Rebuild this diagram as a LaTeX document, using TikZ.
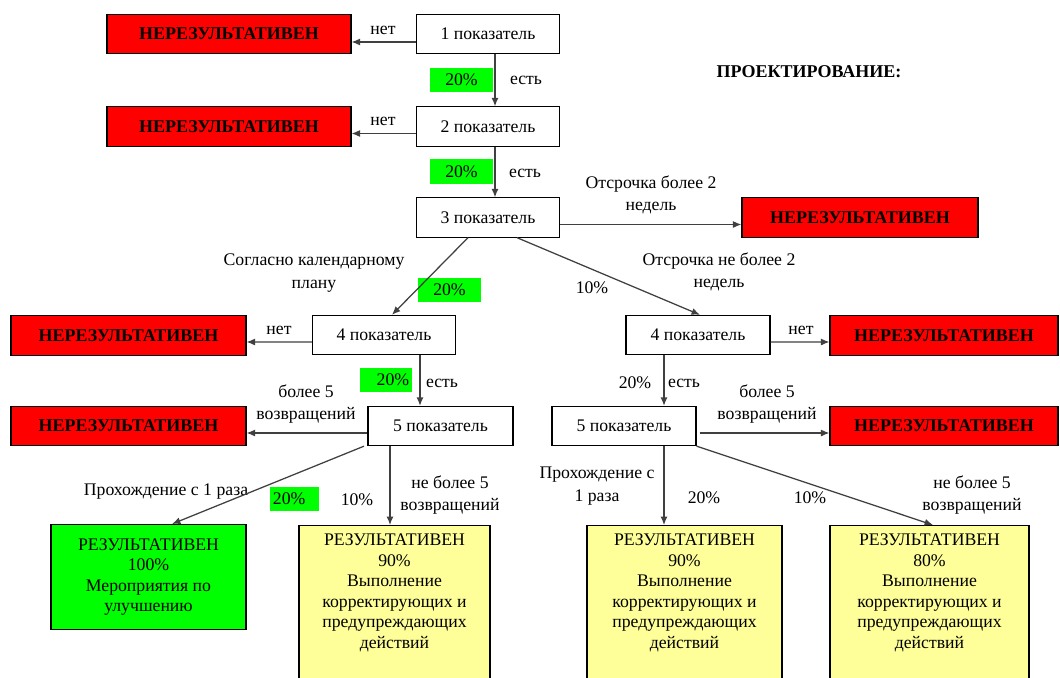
\documentclass[tikz,border=0pt]{standalone}
\usepackage{fontspec}
\setmainfont{Liberation Serif}
\usepackage{xcolor}
\usepackage{tikz}
\usetikzlibrary{arrows.meta}

\definecolor{failred}{HTML}{FF0000}
\definecolor{passgreen}{HTML}{00FF00}
\definecolor{resyellow}{HTML}{FFFF99}

\begin{document}
\begin{tikzpicture}[x=0.025cm, y=-0.025cm,
    ind/.style={draw, line width=0.8pt, fill=white, minimum width=3.575cm, minimum height=0.98cm, inner sep=0pt, font=\fontsize{12.6}{14.6}\selectfont},
    fail/.style={draw, line width=0.8pt, fill=failred, minimum height=0.98cm, inner sep=0pt, font=\bfseries\fontsize{12.8}{14.6}\selectfont},
    res/.style={draw, line width=0.8pt, anchor=north, align=center, inner xsep=2pt, inner ysep=6pt, font=\fontsize{12.6}{14.6}\selectfont},
    pct/.style={fill=passgreen, inner xsep=2pt, inner ysep=0pt, minimum height=0.6cm, font=\fontsize{12.6}{14.6}\selectfont},
    lbl/.style={inner sep=1pt, align=center, font=\fontsize{12.6}{16}\selectfont},
    arr/.style={-{Latex[length=6pt,width=5pt]}, line width=0.9pt, draw=black!75}]

    \useasboundingbox (0,0) rectangle (1060,678);

    % Title
    \node[font=\bfseries\fontsize{12.8}{14.6}\selectfont] (title) at (809,72) {ПРОЕКТИРОВАНИЕ:};

    % Indicators
    \node[ind] (ind1) at (488,34) {1 показатель};
    \node[ind] (ind2) at (488,126.5) {2 показатель};
    \node[ind] (ind3) at (488,217.5) {3 показатель};
    \node[ind] (ind4a) at (384,335) {4 показатель};
    \node[ind, minimum width=3.6cm] (ind4b) at (698,335) {4 показатель};
    \node[ind, minimum width=3.625cm] (ind5a) at (440.5,426) {5 показатель};
    \node[ind, minimum width=3.6cm] (ind5b) at (624,426) {5 показатель};

    % Negative outcomes
    \node[fail, minimum width=6.1cm] (fail1) at (229,34) {НЕРЕЗУЛЬТАТИВЕН};
    \node[fail, minimum width=6.1cm] (fail2) at (229,126.5) {НЕРЕЗУЛЬТАТИВЕН};
    \node[fail, minimum width=5.9cm] (fail3) at (860,217.5) {НЕРЕЗУЛЬТАТИВЕН};
    \node[fail, minimum width=5.875cm] (fail4a) at (128.5,335.5) {НЕРЕЗУЛЬТАТИВЕН};
    \node[fail, minimum width=5.7cm] (fail4b) at (944,335.5) {НЕРЕЗУЛЬТАТИВЕН};
    \node[fail, minimum width=5.875cm] (fail5a) at (128.5,426) {НЕРЕЗУЛЬТАТИВЕН};
    \node[fail, minimum width=5.7cm] (fail5b) at (944,426) {НЕРЕЗУЛЬТАТИВЕН};

    % Results
    \node[res, fill=passgreen, minimum width=4.875cm, minimum height=2.625cm] (res1) at (148.5,524) {РЕЗУЛЬТАТИВЕН\\100\%\\Мероприятия по\\улучшению};
    \node[res, fill=resyellow, minimum width=4.775cm, text depth=4cm] (res2) at (394.5,525) {РЕЗУЛЬТАТИВЕН\\90\%\\Выполнение\\корректирующих и\\предупреждающих\\действий};
    \node[res, fill=resyellow, minimum width=4.875cm, text depth=4cm] (res3) at (684.5,525) {РЕЗУЛЬТАТИВЕН\\90\%\\Выполнение\\корректирующих и\\предупреждающих\\действий};
    \node[res, fill=resyellow, minimum width=4.975cm, text depth=4cm] (res4) at (929.5,525) {РЕЗУЛЬТАТИВЕН\\80\%\\Выполнение\\корректирующих и\\предупреждающих\\действий};

    % Shares
    \node[pct, text width=1.43cm, align=center] (pct1) at (461.5,80) {20\%};
    \node[pct, text width=1.43cm, align=center] (pct2) at (461.5,171.5) {20\%};
    \node[pct, text width=1.43cm, align=center] (pct3) at (449.5,289.5) {20\%};
    \node[pct, text width=1.16cm, align=right] (pct4) at (386,380) {20\%};
    \node[pct, text width=1.08cm, align=left] (pct5) at (294.5,498.5) {20\%};
    \node[lbl] (pct6) at (592,288) {10\%};
    \node[lbl] (pct7) at (635,383) {20\%};
    \node[lbl] (pct8) at (357,500) {10\%};
    \node[lbl] (pct9) at (704,498) {20\%};
    \node[lbl] (pct10) at (810,498) {10\%};

    % Edge labels
    \node[lbl] (no1) at (383,30) {нет};
    \node[lbl] (yes1) at (526,80) {есть};
    \node[lbl] (no2) at (383,121) {нет};
    \node[lbl] (yes2) at (525,173) {есть};
    \node[lbl] (late) at (651,195) {Отсрочка более 2\\недель};
    \node[lbl] (plan) at (314,273) {Согласно календарному\\плану};
    \node[lbl] (delay) at (719,272) {Отсрочка не более 2\\недель};
    \node[lbl] (no4a) at (279,330) {нет};
    \node[lbl] (no4b) at (801,330) {нет};
    \node[lbl] (yes4a) at (442,383) {есть};
    \node[lbl] (yes4b) at (684,383) {есть};
    \node[lbl] (many5a) at (306,404) {более 5\\возвращений};
    \node[lbl] (many5b) at (767,404) {более 5\\возвращений};
    \node[lbl] (first5a) at (166,492) {Прохождение с 1 раза};
    \node[lbl] (few5a) at (450,495) {не более 5\\возвращений};
    \node[lbl] (first5b) at (597,486) {Прохождение с\\1 раза};
    \node[lbl] (few5b) at (972,495) {не более 5\\возвращений};

    % Edges
    \draw[arr] ([shift={(0,8)}]ind1.west) -- ([shift={(0,8)}]fail1.east);
    \draw[arr] ([shift={(7,0)}]ind1.south) -- ([shift={(7,0)}]ind2.north);
    \draw[arr] ([shift={(0,7)}]ind2.west) -- ([shift={(0,7)}]fail2.east);
    \draw[arr] ([shift={(7,0)}]ind2.south) -- ([shift={(7,0)}]ind3.north);
    \draw[arr] ([shift={(0,7)}]ind3.east) -- ([shift={(0,7)}]fail3.west);
    \draw[arr] ([shift={(-20,0)}]ind3.south) -- ([shift={(8,0)}]ind4a.north);
    \draw[arr] ([shift={(29,0)}]ind3.south) -- ([shift={(2,0)}]ind4b.north);
    \draw[arr] ([shift={(0,7)}]ind4a.west) -- ([shift={(0,6.5)}]fail4a.east);
    \draw[arr] ([shift={(0,7)}]ind4b.east) -- ([shift={(0,6.5)}]fail4b.west);
    \draw[arr] ([shift={(36,0)}]ind4a.south) -- ([shift={(-20.5,0)}]ind5a.north);
    \draw[arr] ([shift={(-34,0)}]ind4b.south) -- ([shift={(40,0)}]ind5b.north);
    \draw[arr] ([shift={(0,7)}]ind5a.west) -- ([shift={(0,7)}]fail5a.east);
    \draw[arr] ([shift={(3,7)}]ind5b.east) -- ([shift={(0,7)}]fail5b.west);
    \draw[arr] ([shift={(-76.5,0)}]ind5a.south) -- ([shift={(23.5,0)}]res1.north);
    \draw[arr] ([shift={(-50.5,0)}]ind5a.south) -- ([shift={(-4.5,0)}]res2.north);
    \draw[arr] ([shift={(40,0)}]ind5b.south) -- ([shift={(-20.5,0)}]res3.north);
    \draw[arr] (ind5b.south east) -- ([shift={(3.5,0)}]res4.north);
\end{tikzpicture}
\end{document}
